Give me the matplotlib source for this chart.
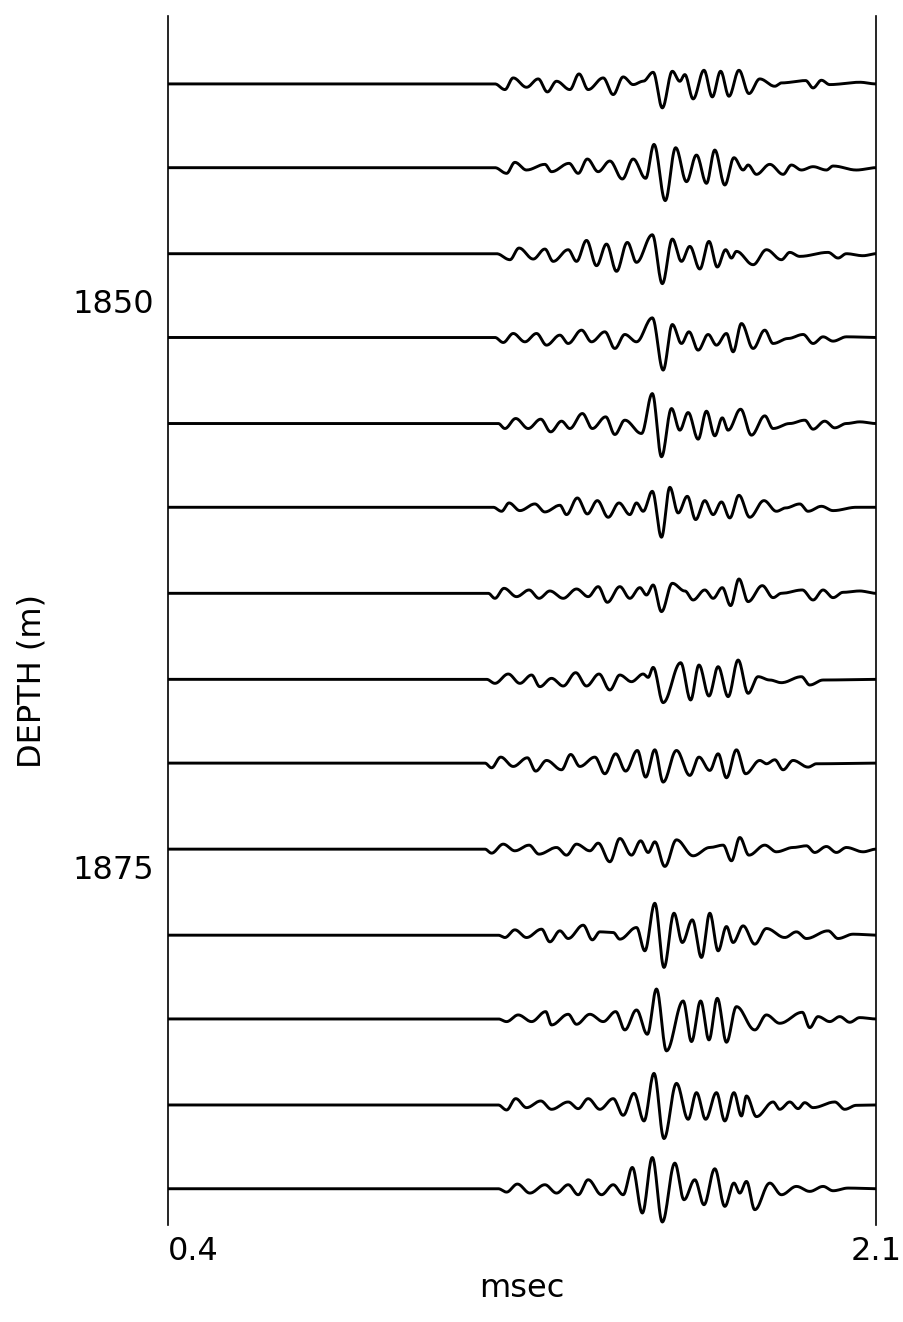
import numpy as np
import matplotlib.pyplot as plt

# depth of each recorded trace (m)
depths = [1840.4, 1844.1, 1847.9, 1851.6, 1855.4, 1859.1, 1862.9,
          1866.7, 1870.4, 1874.2, 1878.0, 1881.7, 1885.5, 1889.2]

# picked extrema of each trace: (time in msec, amplitude in arbitrary units)
trace_01 = [(1.185, 0), (1.209, -17), (1.229, 18), (1.261, -10), (1.289, 15), (1.311, -24),
            (1.333, 8), (1.365, -17), (1.387, 30), (1.409, -17), (1.445, 18), (1.469, -32),
            (1.493, 21), (1.517, -2), (1.541, 8), (1.565, 35), (1.587, -72), (1.611, 38),
            (1.629, 8), (1.641, 28), (1.661, -45), (1.687, 41), (1.707, -39), (1.727, 38),
            (1.747, -37), (1.771, 41), (1.795, -29), (1.821, 15), (1.857, -7), (1.873, 3),
            (1.931, 10), (1.949, -12), (1.969, 11), (1.989, -2), (2.061, 5)]
trace_02 = [(1.185, 0), (1.213, -17), (1.233, 16), (1.261, -7), (1.305, 10), (1.321, -12),
            (1.363, 13), (1.385, -17), (1.407, 26), (1.433, -12), (1.461, 20), (1.491, -34),
            (1.517, 26), (1.547, -32), (1.567, 70), (1.594, -99), (1.619, 60), (1.645, -42),
            (1.669, 38), (1.693, -47), (1.713, 53), (1.737, -52), (1.759, 30), (1.781, -7),
            (1.793, 8), (1.813, -20), (1.845, 10), (1.877, -20), (1.897, 8), (1.921, -7),
            (1.949, 3), (1.981, -7), (1.997, 5), (2.053, -7)]
trace_03 = [(1.189, 0), (1.221, -18), (1.243, 17), (1.277, -16), (1.305, 14), (1.325, -23),
            (1.361, 12), (1.381, -23), (1.405, 40), (1.429, -36), (1.453, 29), (1.477, -53),
            (1.503, 34), (1.525, -26), (1.563, 57), (1.587, -90), (1.611, 44), (1.633, -23),
            (1.653, 22), (1.677, -46), (1.699, 37), (1.719, -40), (1.739, 12), (1.753, -13),
            (1.765, 7), (1.805, -33), (1.837, 12), (1.873, -18), (1.893, 4), (1.917, -8),
            (1.985, 4), (2.009, -13), (2.029, 0), (2.069, -6)]
trace_04 = [(1.185, 0), (1.205, -15), (1.229, 12), (1.257, -13), (1.285, 12), (1.309, -23),
            (1.341, 7), (1.361, -18), (1.393, 22), (1.417, -13), (1.449, 17), (1.473, -33),
            (1.497, 9), (1.525, -13), (1.563, 59), (1.589, -98), (1.611, 39), (1.633, -18),
            (1.651, 17), (1.673, -38), (1.697, 9), (1.717, -23), (1.741, 12), (1.757, -43),
            (1.777, 42), (1.805, -33), (1.833, 22), (1.853, -18), (1.889, -3), (1.925, 9),
            (1.949, -18), (1.973, 2), (1.997, -11), (2.029, 2)]
trace_05 = [(1.193, 0), (1.209, -15), (1.235, 15), (1.265, -15), (1.295, 13), (1.319, -25),
            (1.345, 7), (1.365, -15), (1.395, 30), (1.419, -15), (1.451, 20), (1.473, -33),
            (1.497, 10), (1.537, -30), (1.563, 90), (1.585, -100), (1.609, 45), (1.629, -20),
            (1.649, 33), (1.673, -47), (1.693, 37), (1.713, -37), (1.731, 17), (1.745, -20),
            (1.775, 43), (1.801, -35), (1.833, 23), (1.853, -15), (1.893, 0), (1.929, 10),
            (1.949, -17), (1.977, 7), (2.001, -13), (2.029, 0), (2.061, 5)]
trace_06 = [(1.181, 0), (1.201, -12), (1.219, 13), (1.245, -10), (1.281, 10), (1.305, -14),
            (1.341, 6), (1.357, -22), (1.383, 28), (1.407, -20), (1.431, 20), (1.457, -30),
            (1.483, 13), (1.509, -22), (1.525, 13), (1.541, -12), (1.563, 48), (1.585, -90),
            (1.605, 60), (1.625, -17), (1.647, 33), (1.667, -37), (1.689, 20), (1.709, -22),
            (1.729, 16), (1.749, -32), (1.771, 36), (1.797, -30), (1.831, 20), (1.861, -12),
            (1.883, -2), (1.917, 10), (1.937, -12), (1.969, 3), (1.997, -10), (2.053, 0)]
trace_07 = [(1.169, 0), (1.185, -15), (1.207, 15), (1.237, -10), (1.267, 10), (1.291, -15),
            (1.317, 7), (1.349, -15), (1.381, 13), (1.409, -10), (1.433, 20), (1.455, -27),
            (1.485, 20), (1.509, -15), (1.533, 17), (1.549, -5), (1.565, 25), (1.585, -55),
            (1.611, 30), (1.641, 7), (1.661, -20), (1.689, 10), (1.709, -15), (1.731, 17),
            (1.751, -37), (1.771, 43), (1.793, -25), (1.827, 23), (1.853, -13), (1.873, 0),
            (1.923, 10), (1.949, -20), (1.973, 10), (1.997, -13), (2.021, 3), (2.061, 7)]
trace_08 = [(1.165, 0), (1.185, -12), (1.217, 16), (1.245, -12), (1.273, 13), (1.293, -22),
            (1.321, 3), (1.349, -20), (1.379, 20), (1.405, -20), (1.435, 16), (1.461, -32),
            (1.485, 13), (1.513, -7), (1.541, 16), (1.553, 6), (1.565, 36), (1.589, -70),
            (1.631, 50), (1.655, -62), (1.675, 43), (1.699, -50), (1.721, 38), (1.745, -52),
            (1.769, 58), (1.793, -42), (1.817, 8), (1.845, -2), (1.873, -10), (1.921, 8),
            (1.941, -17), (1.973, -2)]
trace_09 = [(1.161, 0), (1.177, -14), (1.199, 18), (1.229, -10), (1.263, 16), (1.283, -24),
            (1.309, 8), (1.345, -20), (1.367, 26), (1.389, -10), (1.425, 18), (1.449, -32),
            (1.475, 28), (1.499, -24), (1.527, 38), (1.547, -42), (1.569, 40), (1.589, -57),
            (1.621, 38), (1.653, -37), (1.675, 18), (1.701, -22), (1.721, 28), (1.741, -44),
            (1.765, 40), (1.787, -32), (1.821, 8), (1.837, -2), (1.857, 10), (1.877, -20),
            (1.901, 8), (1.937, -12), (1.957, -2)]
trace_10 = [(1.161, 0), (1.177, -12), (1.205, 15), (1.233, -5), (1.267, 12), (1.291, -15),
            (1.333, 5), (1.357, -18), (1.381, 15), (1.413, -5), (1.433, 18), (1.461, -38),
            (1.485, 32), (1.513, -18), (1.535, 25), (1.553, -10), (1.569, 22), (1.593, -52),
            (1.621, 28), (1.661, -20), (1.701, 5), (1.733, 12), (1.753, -35), (1.773, 35),
            (1.795, -18), (1.833, 12), (1.861, -8), (1.901, 5), (1.933, 10), (1.953, -10),
            (1.981, 8), (2.005, -10), (2.029, 5), (2.069, -8)]
trace_11 = [(1.193, 0), (1.209, -7), (1.233, 16), (1.261, -7), (1.297, 18), (1.317, -20),
            (1.341, 13), (1.361, -10), (1.397, 30), (1.419, -14), (1.437, 10), (1.469, 8),
            (1.485, -12), (1.525, 23), (1.545, -47), (1.569, 96), (1.591, -97), (1.615, 66),
            (1.635, -22), (1.659, 46), (1.681, -67), (1.701, 66), (1.721, -47), (1.741, 26),
            (1.757, -22), (1.781, 28), (1.809, -27), (1.837, 20), (1.881, -7), (1.909, 10),
            (1.933, -10), (1.985, 13), (2.009, -10), (2.045, 3)]
trace_12 = [(1.193, 0), (1.213, -8), (1.241, 12), (1.273, -8), (1.307, 22), (1.321, -18),
            (1.361, 14), (1.381, -16), (1.413, 14), (1.445, -8), (1.475, 22), (1.497, -33),
            (1.525, 27), (1.551, -46), (1.573, 90), (1.597, -96), (1.637, 54), (1.657, -68),
            (1.679, 54), (1.699, -63), (1.719, 62), (1.741, -70), (1.765, 37), (1.809, -33),
            (1.837, 12), (1.869, -13), (1.923, 20), (1.941, -26), (1.961, 7), (1.989, -8),
            (2.013, 7), (2.037, -10), (2.061, 4)]
trace_13 = [(1.193, 0), (1.213, -15), (1.235, 19), (1.261, -8), (1.295, 12), (1.321, -13),
            (1.361, 9), (1.385, -11), (1.409, 19), (1.437, -13), (1.469, 19), (1.493, -31),
            (1.519, 35), (1.543, -48), (1.567, 95), (1.591, -101), (1.621, 65), (1.649, -43),
            (1.669, 37), (1.691, -43), (1.717, 37), (1.737, -48), (1.759, 37), (1.777, -33),
            (1.789, 27), (1.813, -35), (1.853, 9), (1.869, -13), (1.893, 9), (1.913, -11),
            (1.929, 7), (1.949, -8), (2.001, 9), (2.025, -13), (2.053, -1)]
trace_14 = [(1.193, 0), (1.213, -10), (1.239, 14), (1.269, -13), (1.305, 12), (1.333, -13),
            (1.361, 12), (1.385, -18), (1.409, 27), (1.441, -18), (1.469, 12), (1.493, -18),
            (1.515, 64), (1.539, -73), (1.563, 94), (1.587, -100), (1.617, 77), (1.639, -33),
            (1.665, 27), (1.687, -48), (1.713, 60), (1.737, -53), (1.759, 17), (1.773, -13),
            (1.789, 22), (1.809, -63), (1.845, 17), (1.873, -18), (1.909, 7), (1.941, -8),
            (1.973, 7), (1.997, -6), (2.033, 2)]

traces = [trace_01, trace_02, trace_03, trace_04, trace_05, trace_06, trace_07,
          trace_08, trace_09, trace_10, trace_11, trace_12, trace_13, trace_14]

t_min, t_max = 0.4, 2.1
y_ticks = [1850, 1875]
gain = 0.0147  # display gain, depth units per amplitude unit


def smooth_trace(picks):
    # half-cosine segments between picked extrema
    pts = [(t_min, 0)] + picks + [(t_max, 0)]
    xs, ys = [], []
    for (t0, a0), (t1, a1) in zip(pts[:-1], pts[1:]):
        s = np.linspace(0, 1, 16, endpoint=False)
        xs.append(t0 + (t1 - t0) * s)
        ys.append(a0 + (a1 - a0) * (1 - np.cos(np.pi * s)) / 2)
    xs.append([t_max])
    ys.append([0])
    return np.concatenate(xs), np.concatenate(ys)


fig = plt.figure(figsize=(9.04, 13.22), dpi=100)
ax = fig.add_axes([0.1858, 0.0734, 0.7832, 0.9145])

for depth, picks in zip(depths, traces):
    t, a = smooth_trace(picks)
    ax.plot(t, depth - gain * a, color='black', lw=2.1)

ax.set_xlim(t_min, t_max)
ax.set_ylim(1890.8, 1837.4)

for side in ['top', 'bottom']:
    ax.spines[side].set_visible(False)
for side in ['left', 'right']:
    ax.spines[side].set_linewidth(1.2)

ax.set_yticks(y_ticks)
ax.set_yticklabels([str(v) for v in y_ticks])
ax.set_xticks([t_min, t_max])
ax.set_xticklabels(['0.4', '2.1'])
ax.tick_params(axis='both', length=0, labelsize=23, pad=10)
ax.tick_params(axis='x', pad=8)
ax.get_xticklabels()[0].set_ha('left')

ax.set_ylabel('DEPTH (m)', fontsize=23)
ax.yaxis.set_label_coords(-0.17, 0.45)
ax.set_xlabel('msec', fontsize=23, labelpad=4)

fig.savefig('out.png', dpi=100)
